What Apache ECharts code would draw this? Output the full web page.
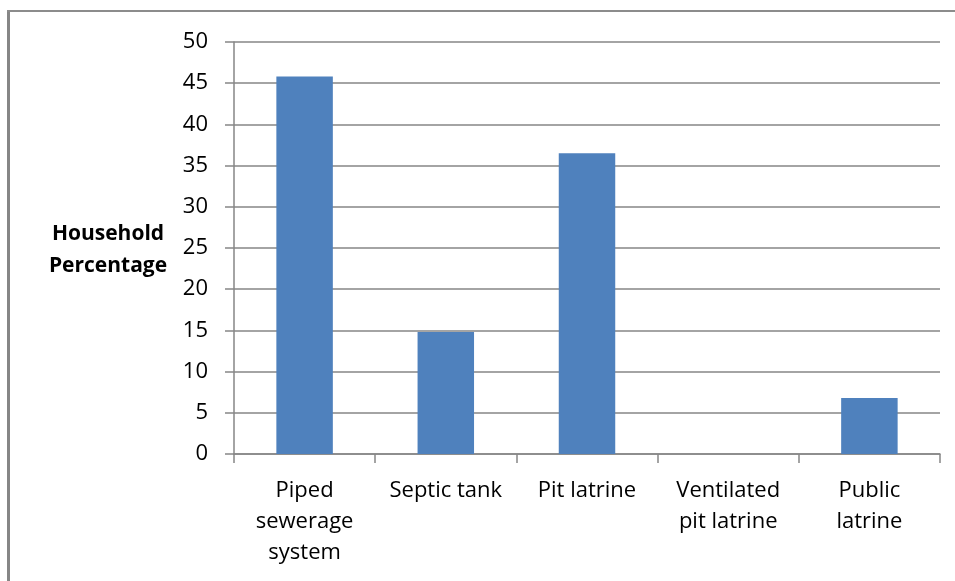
<!DOCTYPE html>
<html><head><meta charset="utf-8">
<script src="https://cdn.jsdelivr.net/npm/echarts@6/dist/echarts.min.js"></script>
<style>html,body{margin:0;padding:0;background:#fff}#c{width:955px;height:581px}</style>
</head><body><div id="c"></div>
<script>
const categories = ["Piped\nsewerage\nsystem", "Septic tank", "Pit latrine", "Ventilated\npit latrine", "Public\nlatrine"];
const values = [45.8, 14.8, 36.5, 0, 6.8];
const yTicks = {min: 0, max: 50, interval: 5};
const yTitle = "Household\nPercentage";

const chart = echarts.init(document.getElementById('c'), null, {renderer: 'canvas'});
const font = "'Open Sans', sans-serif";
chart.setOption({
  animation: false,
  grid: {left: 234, right: 15, top: 42, bottom: 127},
  graphic: [
    {type: 'line', shape: {x1: 8.5, y1: 10, x2: 8.5, y2: 581}, style: {stroke: '#868686', lineWidth: 3}},
    {type: 'line', shape: {x1: 7, y1: 11, x2: 955, y2: 11}, style: {stroke: '#8c8c8c', lineWidth: 2}},
    {type: 'text', x: 108, y: 250, style: {text: yTitle, font: 'bold 21px ' + font, fill: '#000', align: 'center', verticalAlign: 'middle', lineHeight: 32}}
  ],
  xAxis: {
    type: 'category', data: categories,
    axisLine: {lineStyle: {color: '#868686', width: 1.5}},
    axisTick: {show: true, length: 9, lineStyle: {color: '#868686', width: 1.5}},
    axisLabel: {color: '#000', fontSize: 22, fontFamily: font, lineHeight: 31, margin: 21, interval: 0}
  },
  yAxis: {
    type: 'value', min: yTicks.min, max: yTicks.max, interval: yTicks.interval,
    axisLine: {show: true, lineStyle: {color: '#868686', width: 1.5}},
    axisTick: {show: true, length: 9, lineStyle: {color: '#868686', width: 1.5}},
    splitLine: {lineStyle: {color: '#868686', width: 1.5}},
    axisLabel: {color: '#000', fontSize: 22, fontFamily: font, margin: 26}
  },
  series: [{type: 'bar', data: values, barWidth: '40%', itemStyle: {color: '#4f81bd'}}]
});
</script></body></html>
